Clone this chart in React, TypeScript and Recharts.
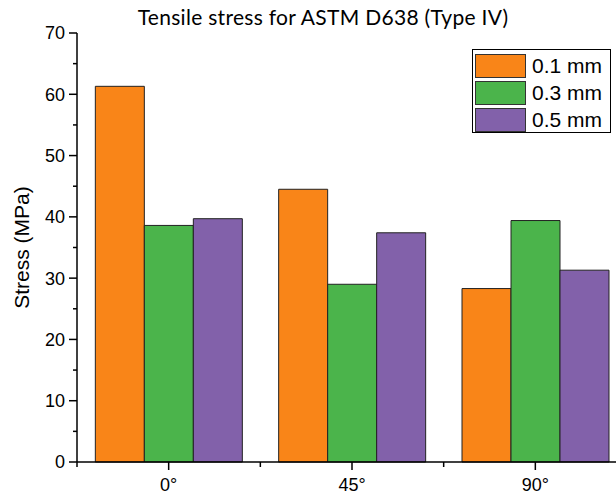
import React from 'react';
import { Bar, BarChart, Label, XAxis, YAxis } from 'recharts';

const categories = ['0°', '45°', '90°'];
const layer01 = [61.3, 44.5, 28.3];
const layer03 = [38.6, 29.0, 39.4];
const layer05 = [39.7, 37.4, 31.3];
const yTicks = [0, 5, 10, 15, 20, 25, 30, 35, 40, 45, 50, 55, 60, 65, 70];

const seriesInfo = [
  { key: 'l01', name: '0.1 mm', color: '#F98518' },
  { key: 'l03', name: '0.3 mm', color: '#4BB44B' },
  { key: 'l05', name: '0.5 mm', color: '#8261AA' },
];

const data = categories.map((angle, i) => ({
  angle,
  l01: layer01[i],
  l03: layer03[i],
  l05: layer05[i],
}));

const CHART_W = 640;
const CHART_H = 495;
const MARGIN = { top: 33, right: 13, bottom: 0, left: 0 };
const Y_AXIS_W = 77;
const X_AXIS_H = 33;
const bandWidth = (CHART_W - MARGIN.left - MARGIN.right - Y_AXIS_W) / categories.length;

const axisFont = '"Liberation Sans", Arial, sans-serif';

// y ticks: label every 10, short minor tick every 5
const YTick = (props: any) => {
  const { x, y, payload } = props;
  const major = payload.value % 10 === 0;
  return (
    <g>
      <line x1={x - (major ? 8 : 4)} x2={x} y1={y} y2={y} stroke="#000" strokeWidth={1.5} />
      {major && (
        <text x={x - 12} y={y} dy="0.36em" textAnchor="end" fontSize={18} fontFamily={axisFont} fill="#000">
          {payload.value}
        </text>
      )}
    </g>
  );
};

// x ticks: major tick at category center, minor tick at band boundary
const XTick = (props: any) => {
  const { x, y, payload } = props;
  const bx = x - bandWidth / 2;
  return (
    <g>
      <line x1={x} x2={x} y1={y} y2={y + 8} stroke="#000" strokeWidth={1.5} />
      <line x1={bx} x2={bx} y1={y} y2={y + 5} stroke="#000" strokeWidth={1.5} />
      <text x={x} y={y + 29} textAnchor="middle" fontSize={18} fontFamily={axisFont} fill="#000">
        {payload.value}
      </text>
    </g>
  );
};

const LegendBox = () => (
  <div
    style={{
      position: 'absolute',
      left: 472,
      top: 49,
      width: 139,
      height: 84,
      boxSizing: 'border-box',
      border: '1px solid #000',
      background: '#fff',
      padding: '2px 0 0 2px',
      fontFamily: axisFont,
      fontSize: 21,
    }}
  >
    {seriesInfo.map((s) => (
      <div key={s.key} style={{ display: 'flex', alignItems: 'center', height: 27.3 }}>
        <div
          style={{
            width: 51,
            height: 24,
            boxSizing: 'border-box',
            background: s.color,
            border: '1px solid #333',
            marginRight: 6,
            flexShrink: 0,
          }}
        />
        <span style={{ whiteSpace: 'nowrap' }}>{s.name}</span>
      </div>
    ))}
  </div>
);

export default function App() {
  return (
    <div
      style={{
        position: 'fixed',
        left: 0,
        top: 0,
        width: 616,
        height: 495,
        overflow: 'hidden',
        background: '#fff',
      }}
    >
      <div
        style={{
          position: 'absolute',
          left: 0,
          width: 646,
          top: 4,
          textAlign: 'center',
          fontFamily: 'Lato, sans-serif',
          fontSize: 21,
          letterSpacing: 0.3,
          color: '#000',
        }}
      >
        Tensile stress for ASTM D638 (Type IV)
      </div>
      <BarChart
        width={CHART_W}
        height={CHART_H}
        data={data}
        margin={MARGIN}
        barCategoryGap="10%"
        barGap={0}
      >
        <XAxis
          dataKey="angle"
          height={X_AXIS_H}
          tickSize={0}
          tickMargin={0}
          tickLine={false}
          tick={<XTick />}
          axisLine={{ stroke: '#000', strokeWidth: 1.5 }}
        />
        <YAxis
          width={Y_AXIS_W}
          domain={[0, 70]}
          ticks={yTicks}
          interval={0}
          tickSize={0}
          tickMargin={0}
          tickLine={false}
          tick={<YTick />}
          axisLine={{ stroke: '#000', strokeWidth: 1.5 }}
        >
          <Label
            value="Stress (MPa)"
            angle={-90}
            position="insideLeft"
            offset={22}
            style={{ textAnchor: 'middle', fontSize: 21, fontFamily: axisFont, fill: '#000' }}
          />
        </YAxis>
        {seriesInfo.map((s) => (
          <Bar
            key={s.key}
            dataKey={s.key}
            name={s.name}
            fill={s.color}
            stroke="#222"
            strokeWidth={1}
            isAnimationActive={false}
          />
        ))}
      </BarChart>
      <LegendBox />
    </div>
  );
}
